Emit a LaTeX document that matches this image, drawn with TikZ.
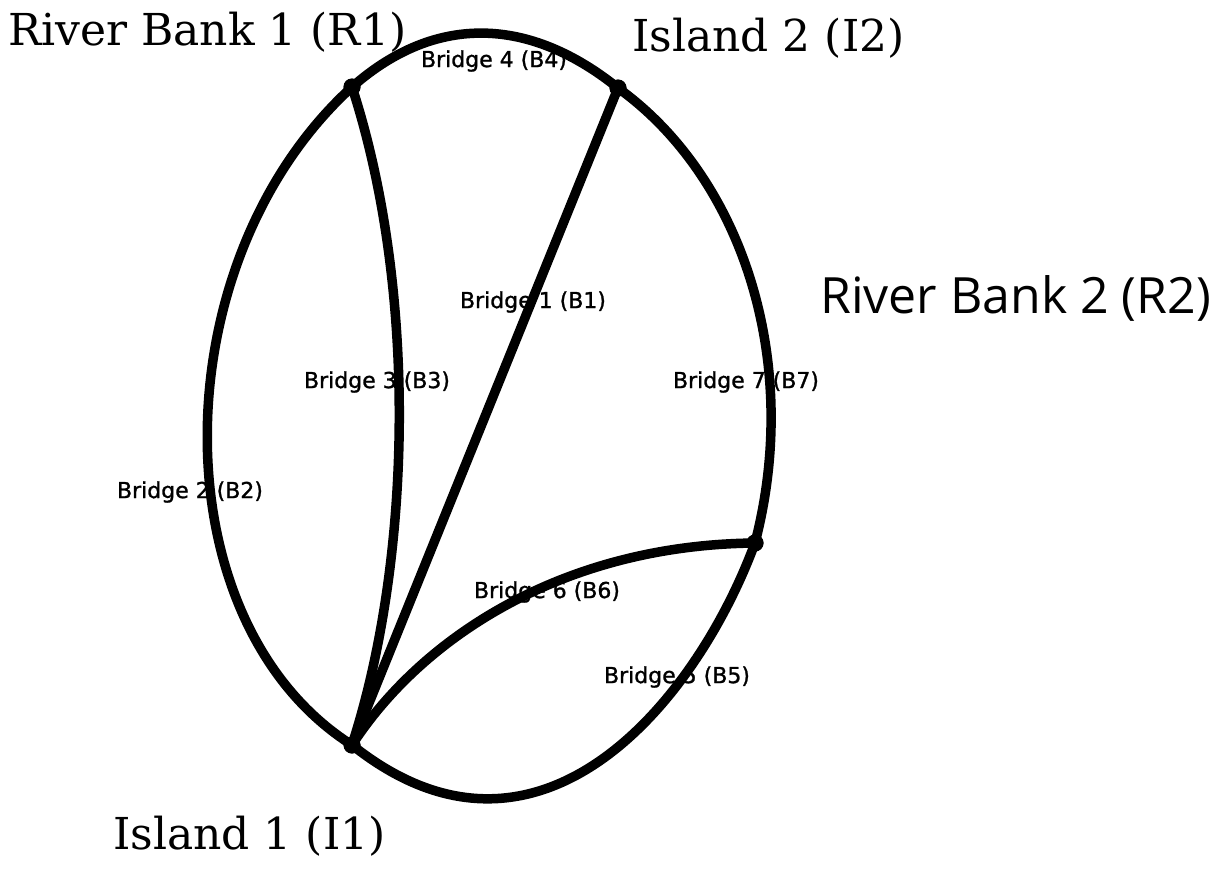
\documentclass[tikz,border=0pt]{standalone}
\usepackage{fontspec}
\newfontfamily\placeserif{DejaVu Serif}
\newfontfamily\placesans{Open Sans}
\newfontfamily\bridgefont[FakeBold=1.2]{DejaVu Sans}

\begin{document}
\begin{tikzpicture}[x=1pt, y=-1pt,
  vertex/.style={circle, fill=black, inner sep=0pt, minimum size=17pt},
  bridge/.style={line width=9.5pt, draw=black, line join=round},
  blabel/.style={font=\bridgefont\fontsize{22}{24}\selectfont, inner sep=0pt},
  placeserif/.style={font=\placeserif\fontsize{44}{50}\selectfont, inner sep=0pt, anchor=base west},
  placesans/.style={font=\placesans\fontsize{50}{56}\selectfont, inner sep=0pt, anchor=base west}]
\useasboundingbox (0,0) rectangle (1226,868);

% land masses
\node[vertex] (r1) at (352,87) {};
\node[vertex] (i2) at (618,88) {};
\node[vertex] (r2) at (755,543) {};
\node[vertex] (i1) at (352,745) {};

% place names
\node[placeserif] (lr1) at (8,45) {River Bank 1 (R1)};
\node[placeserif] (li2) at (632,51) {Island 2 (I2)};
\node[placesans]  (lr2) at (820,313) {River Bank 2 (R2)};
\node[placeserif] (li1) at (113,849) {Island 1 (I1)};

% bridge names
\node[blabel] (lb4) at (494,61)  {Bridge 4 (B4)};
\node[blabel] (lb1) at (533,302) {Bridge 1 (B1)};
\node[blabel] (lb3) at (377,382) {Bridge 3 (B3)};
\node[blabel] (lb7) at (746,382) {Bridge 7 (B7)};
\node[blabel] (lb2) at (190,492) {Bridge 2 (B2)};
\node[blabel] (lb6) at (547,592) {Bridge 6 (B6)};
\node[blabel] (lb5) at (677,677) {Bridge 5 (B5)};

% bridges
\draw[bridge] (r1.center) .. controls (437,12) and (531,18) .. (i2.center);   % B4
\draw[bridge] (i2.center) .. controls (743,178) and (802,362) .. (r2.center); % B7
\draw[bridge] (r2.center) .. controls (697,700) and (540,895) .. (i1.center); % B5
\draw[bridge] (r1.center) .. controls (160,262) and (158,622) .. (i1.center); % B2
\draw[bridge] (r1.center) .. controls (418,290) and (412,560) .. (i1.center); % B3
\draw[bridge] (i1.center) .. controls (420,640) and (560,545) .. (r2.center); % B6
\draw[bridge] (i1.center) -- (i2.center);                                     % B1

% junction blobs on top
\foreach \v in {r1,i2,r2,i1} \fill (\v) circle (8.5pt);
\end{tikzpicture}
\end{document}
